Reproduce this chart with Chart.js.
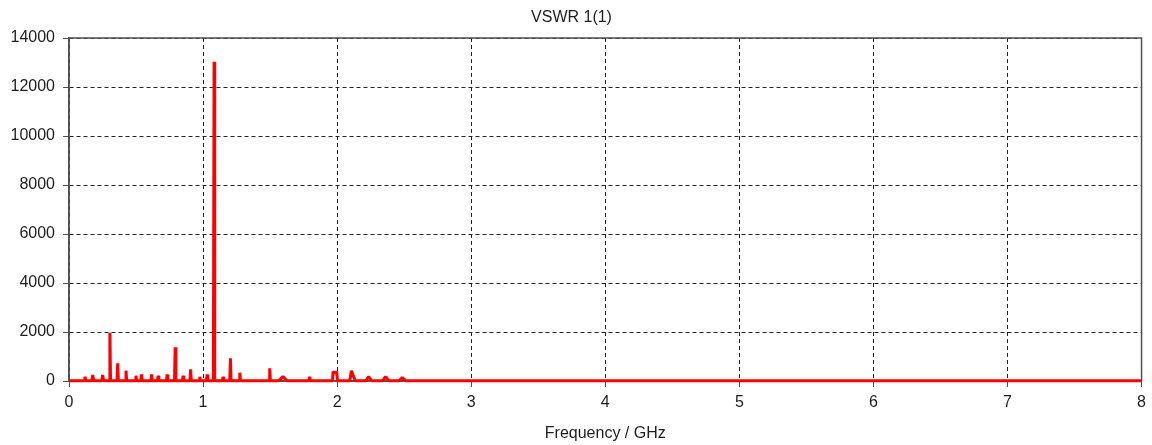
<!DOCTYPE html>
<html>
<head>
<meta charset="utf-8">
<script src="https://cdn.jsdelivr.net/npm/chart.js@4.4.0/dist/chart.umd.min.js"></script>
<style>
  html, body { margin: 0; padding: 0; background: #fff; }
  #wrap { width: 1152px; height: 445px; }
</style>
</head>
<body>
<div id="wrap"><canvas id="graph1"></canvas></div>
<script>
// frequency samples (GHz) and VSWR
var freqGHz = [0,
  0.112, 0.119, 0.126,  0.170, 0.177, 0.184,  0.244, 0.251, 0.258,
  0.300, 0.305, 0.310,  0.358, 0.363, 0.368,  0.420, 0.425, 0.430,
  0.494, 0.499, 0.504,  0.536, 0.541, 0.546,  0.611, 0.616, 0.621,
  0.660, 0.665, 0.670,  0.727, 0.732, 0.737,  0.787, 0.792, 0.797,
  0.846, 0.851, 0.856,  0.902, 0.907, 0.912,  0.971, 0.976, 0.981,
  1.025, 1.030, 1.035,  1.077, 1.082, 1.087,  1.144, 1.149, 1.154,
  1.199, 1.204, 1.209,  1.269, 1.274, 1.279,  1.492, 1.497, 1.502,
  1.565, 1.596, 1.625,  1.790, 1.795, 1.800,
  1.965, 1.970, 1.985, 1.997, 2.002,
  2.095, 2.106, 2.135,  2.215, 2.235, 2.255,  2.340, 2.361, 2.385,
  2.465, 2.486, 2.510,  8];

var vswr = [15,
  15, 175, 15,   15, 245, 15,   15, 245, 15,
  15, 1970, 15,  15, 720, 15,   15, 420, 15,
  15, 215, 15,   15, 270, 15,   15, 270, 15,
  15, 215, 15,   15, 270, 15,   15, 1375, 15,
  15, 215, 15,   15, 480, 15,   15, 175, 15,
  15, 270, 15,   15, 13030, 15, 15, 175, 15,
  15, 925, 15,   15, 340, 15,   15, 520, 15,
  15, 180, 15,   15, 175, 15,
  15, 380, 330, 380, 15,
  15, 420, 15,   15, 175, 15,   15, 175, 15,
  15, 140, 15,   15];

var xMin = 0, xMax = 8, xStep = 1;
var yMin = 0, yMax = 14000, yStep = 2000;

var points = freqGHz.map(function (f, i) { return { x: f, y: vswr[i] }; });

var fontFam = "'Liberation Sans', Arial, sans-serif";

// solid plot frame: left/bottom under the trace, top/right over it
function edge(chart, sides) {
  var a = chart.chartArea, c = chart.ctx;
  c.save();
  c.setLineDash([]);
  c.strokeStyle = '#505050';
  c.lineWidth = 1.5;
  c.beginPath();
  if (sides === 'lb') {
    c.moveTo(a.left, a.top);
    c.lineTo(a.left, a.bottom);
    c.lineTo(a.right, a.bottom);
  } else {
    c.moveTo(a.left, a.top);
    c.lineTo(a.right, a.top);
    c.lineTo(a.right, a.bottom);
  }
  c.stroke();
  c.restore();
}
var frame = {
  id: 'frame',
  beforeDatasetsDraw: function (chart) { edge(chart, 'lb'); },
  afterDatasetsDraw: function (chart) { edge(chart, 'tr'); }
};

var plain = function (v) { return String(v); };

var ctx = document.getElementById('graph1').getContext('2d');
var chart = new Chart(ctx, {
    type: 'line',
    data: {
        datasets: [{
            label: 'VSWR 1(1)',
            data: points,
            borderColor: '#ff0000',
            borderWidth: 3,
            borderJoinStyle: 'bevel',
            pointRadius: 0,
            tension: 0,
            fill: false,
            clip: 4
        }]
    },
    options: {
      responsive: true,
      maintainAspectRatio: false,
      animation: false,
      layout: { padding: { left: 0, right: 9, top: 0, bottom: 0 } },
      plugins: {
        legend: { display: false },
        tooltip: { enabled: false },
        title: {
          display: true,
          text: 'VSWR 1(1)',
          color: '#1e1e1e',
          font: { family: fontFam, size: 16, weight: 'normal', lineHeight: 1.2 },
          padding: { top: 8, bottom: 10.8 }
        }
      },
      scales: {
        x: {
          type: 'linear',
          min: xMin, max: xMax,
          afterFit: function (s) { s.height = 64; },
          ticks: { stepSize: xStep, callback: plain, color: '#1e1e1e', padding: 6, font: { family: fontFam, size: 16 } },
          grid: { color: '#222', tickColor: '#505050', tickLength: 6, lineWidth: 1 },
          border: { color: '#505050', width: 1.5, dash: [4, 3] },
          title: {
            display: true, text: 'Frequency / GHz', color: '#1e1e1e',
            font: { family: fontFam, size: 16, lineHeight: 1.2 },
            padding: { top: 0, bottom: 2 }
          }
        },
        y: {
          min: yMin, max: yMax,
          afterFit: function (s) { s.width = 69; },
          ticks: { stepSize: yStep, callback: plain, color: '#1e1e1e', padding: 8, font: { family: fontFam, size: 16 } },
          grid: { color: '#222', tickColor: '#505050', tickLength: 6, lineWidth: 1 },
          border: { color: '#505050', width: 1.5, dash: [4, 3] }
        }
      }
    },
    plugins: [frame]
});
</script>
</body>
</html>
